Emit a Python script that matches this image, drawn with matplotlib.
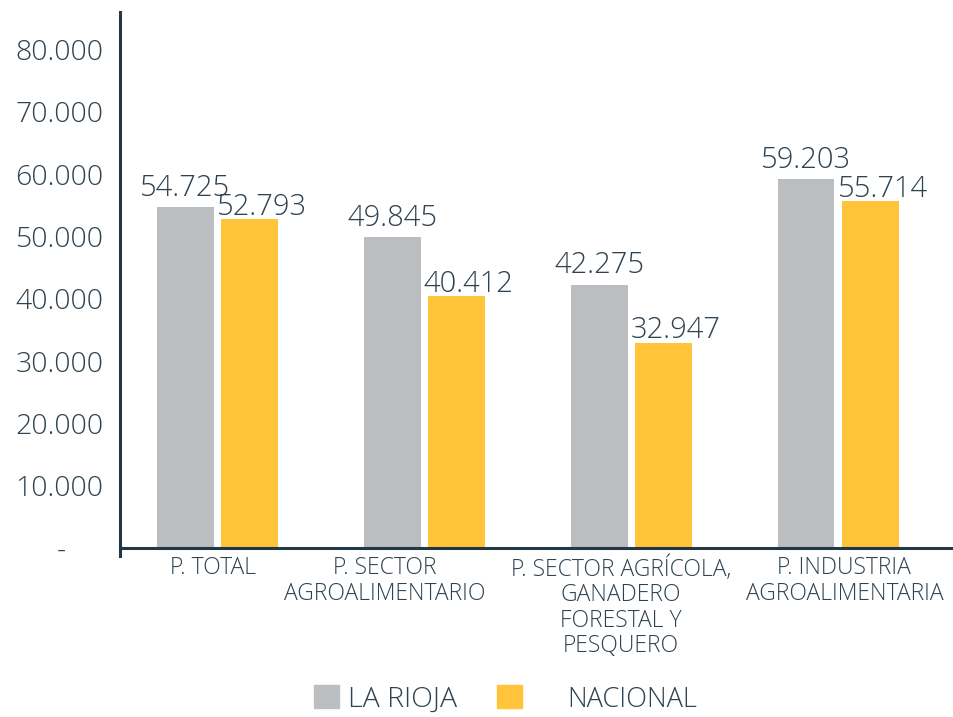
import matplotlib
matplotlib.use("Agg")
import matplotlib.pyplot as plt
from matplotlib.patches import Rectangle
from matplotlib.lines import Line2D
import numpy as np

plt.rcParams['font.family'] = ['Open Sans', 'DejaVu Sans']
plt.rcParams['font.weight'] = 'light'

categories = ["P. TOTAL", "P. SECTOR\nAGROALIMENTARIO",
              "P. SECTOR AGRÍCOLA,\nGANADERO\nFORESTAL Y\nPESQUERO",
              "P. INDUSTRIA\nAGROALIMENTARIA"]
series_names = ["LA RIOJA", "NACIONAL"]
la_rioja = [54725, 49845, 42275, 59203]
nacional = [52793, 40412, 32947, 55714]
yticks = [0, 10000, 20000, 30000, 40000, 50000, 60000, 70000, 80000]

GRAY = "#BCBDC0"
YELLOW = "#FFC43A"
TXT = "#2E4250"
AX = "#233746"

def fmt(v):
    return f"{v:,.0f}".replace(",", ".")

fig = plt.figure(figsize=(9.54, 7.17), dpi=100)
ax = fig.add_axes([120/954, 1-548/717, 1-120/954, (548-12)/717])

x = np.arange(len(categories))
w = 0.275
off = 0.155
b1 = ax.bar(x - off, la_rioja, w, color=GRAY)
b2 = ax.bar(x + off, nacional, w, color=YELLOW)

for r, v in zip(b1, la_rioja):
    ax.annotate(fmt(v), (r.get_x() + r.get_width()/2, v), xytext=(0, 3),
                textcoords="offset points", ha="center", va="bottom",
                fontsize=21, color=TXT)
for r, v in zip(b2, nacional):
    ax.annotate(fmt(v), (r.get_x() + r.get_width()/2, v), xytext=(9, -2),
                textcoords="offset points", ha="center", va="bottom",
                fontsize=21, color=TXT)

ax.set_xlim(-0.47, 3.56)
ax.set_ylim(0, 86000)
ax.set_yticks(yticks)
ax.set_yticklabels(["-     " if t == 0 else fmt(t) for t in yticks],
                   fontsize=20.5, color=TXT)
label_pos = [-0.02, 0.81, 1.95, 3.03]
ax.set_xticks(label_pos)
ax.set_xticklabels(categories, fontsize=16.5, color=TXT, linespacing=1.08)
ax.tick_params(axis='y', length=0, pad=12)
ax.tick_params(axis='x', length=0, pad=6)

for s in ["top", "right"]:
    ax.spines[s].set_visible(False)
ax.spines["left"].set_visible(False)
ax.spines["bottom"].set_color(AX)
ax.spines["bottom"].set_linewidth(2.2)
ax.add_line(Line2D([0, 0], [-0.014, 1], transform=ax.transAxes, color=AX,
                   lw=2.2, clip_on=False))

# legend
fig.add_artist(Rectangle((314/954, 1-708/717), 25/954, 23/717,
                         transform=fig.transFigure, color=GRAY))
fig.text(348/954, 1-707/717, series_names[0], fontsize=20.5, color=TXT,
         va="baseline", ha="left")
fig.add_artist(Rectangle((497/954, 1-708/717), 25/954, 23/717,
                         transform=fig.transFigure, color=YELLOW))
fig.text(567/954, 1-707/717, series_names[1], fontsize=19.5, color=TXT,
         va="baseline", ha="left")

fig.savefig("out.png", dpi=100)
